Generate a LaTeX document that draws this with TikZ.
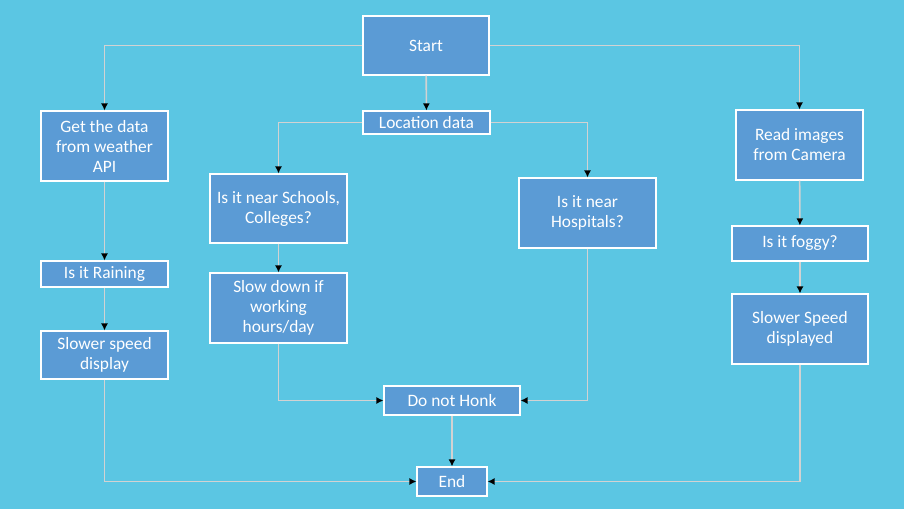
\documentclass[tikz,border=0pt]{standalone}
\usepackage{fontspec}
\setmainfont{Carlito}
\usepackage{xcolor}
\definecolor{bg1}{HTML}{5BC6E3}
\definecolor{b1}{HTML}{5B9BD5}
\usetikzlibrary{arrows.meta}

\tikzset{
  box/.style={draw=white, fill=b1, line width=0.6pt, text=white, align=center,
    font=\fontsize{9.9}{11.4}\selectfont, inner sep=1pt},
  link/.style={draw=white!65!gray, line width=0.9pt,
    -{Latex[length=4pt,width=4pt,color=black]}},
}

\begin{document}
\begin{tikzpicture}[x=0.02cm,y=-0.02cm]
  \fill[bg1] (0,0) rectangle (904,509);

  \node[box, minimum width=2.52cm, minimum height=1.18cm] (start) at (426,45.5) {Start};
  \node[box, minimum width=2.54cm, minimum height=0.46cm] (loc) at (426.5,122.5) {Location data};

  % left column
  \node[box, minimum width=2.54cm, minimum height=1.40cm] (api) at (104.5,146) {Get the data\\from weather\\API};
  \node[box, minimum width=2.54cm, minimum height=0.52cm] (rain) at (104.5,274) {Is it Raining};
  \node[box, minimum width=2.54cm, minimum height=0.96cm] (slowa) at (104.5,355) {Slower speed\\display};

  % middle
  \node[box, minimum width=2.74cm, minimum height=1.38cm] (school) at (278.5,208.5) {Is it near Schools,\\Colleges?};
  \node[box, minimum width=2.74cm, minimum height=1.40cm] (slowb) at (278.5,308) {Slow down if\\working\\hours/day};
  \node[box, minimum width=2.74cm, minimum height=1.40cm] (hosp) at (587.5,213) {Is it near\\Hospitals?};
  \node[box, minimum width=2.72cm, minimum height=0.58cm] (honk) at (452,400.5) {Do not Honk};
  \node[box, minimum width=1.40cm, minimum height=0.58cm] (end) at (452,481.5) {End};

  % right column
  \node[box, minimum width=2.54cm, minimum height=1.40cm] (cam) at (799.5,145) {Read images\\from Camera};
  \node[box, minimum width=2.72cm, minimum height=0.70cm] (fog) at (800,243.5) {Is it foggy?};
  \node[box, minimum width=2.72cm, minimum height=1.40cm] (slowc) at (800,329) {Slower Speed\\displayed};

  \draw[link] (start.west) -| (api.north);
  \draw[link] (start.east) -| (cam.north);
  \draw[link] (start) -- (loc);
  \draw[link] (loc.west) -| (school.north);
  \draw[link] (loc.east) -| (hosp.north);

  \draw[link] (api) -- (rain);
  \draw[link] (rain) -- (slowa);
  \draw[link] (school) -- (slowb);
  \draw[link] (cam) -- (fog);
  \draw[link] (fog) -- (slowc);

  \draw[link] (slowb.south) |- (honk.west);
  \draw[link] (hosp.south) |- (honk.east);
  \draw[link] (honk) -- (end);
  \draw[link] (slowa.south) |- (end.west);
  \draw[link] (slowc.south) |- (end.east);
\end{tikzpicture}
\end{document}
